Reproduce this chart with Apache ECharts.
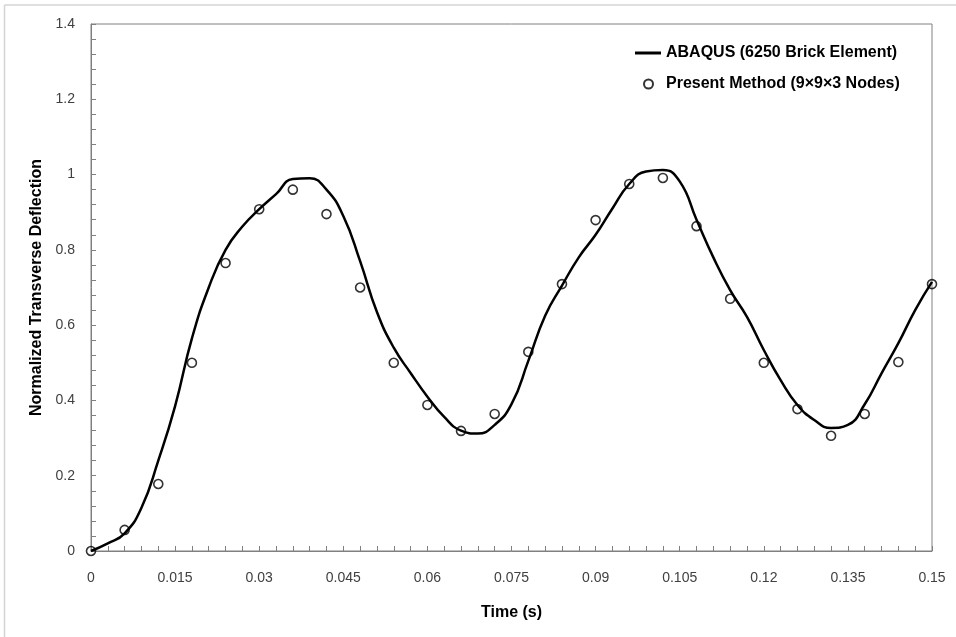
<!DOCTYPE html>
<html>
<head>
    <meta charset="UTF-8">
    <title>Normalized Transverse Deflection</title>
    <script src="https://cdn.jsdelivr.net/npm/echarts@6/dist/echarts.min.js"></script>
    <style>
        html, body { margin: 0; padding: 0; background: #fff; }
        #main { width: 956px; height: 637px; }
    </style>
</head>
<body>
    <div id="main"></div>
    <script type="text/javascript">
        // ABAQUS curve, every 0.003 s
        var abaqusT = [0, 0.003, 0.006, 0.009, 0.012, 0.015, 0.018, 0.021, 0.024, 0.027,
            0.030, 0.033, 0.036, 0.039, 0.042, 0.045, 0.048, 0.051, 0.054, 0.057,
            0.060, 0.063, 0.066, 0.069, 0.072, 0.075, 0.078, 0.081, 0.084, 0.087,
            0.090, 0.093, 0.096, 0.099, 0.102, 0.105, 0.108, 0.111, 0.114, 0.117,
            0.120, 0.123, 0.126, 0.129, 0.132, 0.135, 0.138, 0.141, 0.144, 0.147, 0.150];
        var abaqusV = [0, 0.02, 0.047, 0.115, 0.24, 0.385, 0.565, 0.70, 0.80, 0.862,
            0.908, 0.948, 0.988, 0.99, 0.96, 0.89, 0.77, 0.635, 0.54, 0.473,
            0.41, 0.356, 0.32, 0.312, 0.335, 0.39, 0.505, 0.625, 0.705, 0.78,
            0.84, 0.91, 0.975, 1.008, 1.012, 0.982, 0.88, 0.78, 0.693, 0.622,
            0.534, 0.454, 0.388, 0.348, 0.327, 0.335, 0.39, 0.472, 0.552, 0.64, 0.715];

        // present method points (every 0.006 s)
        var presentT = [0, 0.006, 0.012, 0.018, 0.024, 0.030, 0.036, 0.042, 0.048, 0.054, 0.060, 0.066, 0.072, 0.078, 0.084, 0.090, 0.096, 0.102, 0.108, 0.114, 0.120, 0.126, 0.132, 0.138, 0.144, 0.150];
        var presentV = [0, 0.056, 0.178, 0.50, 0.765, 0.908, 0.96, 0.895, 0.70, 0.50, 0.388, 0.319, 0.364, 0.529, 0.709, 0.879, 0.975, 0.991, 0.863, 0.67, 0.50, 0.377, 0.306, 0.364, 0.502, 0.709];

        var nameLine = 'ABAQUS (6250 Brick Element)';
        var namePts = 'Present Method (9\u00d79\u00d73 Nodes)';

        var lineData = [];
        for (var i = 0; i < abaqusT.length; i++) lineData.push([abaqusT[i], abaqusV[i]]);
        var ptsData = [];
        for (var j = 0; j < presentT.length; j++) ptsData.push([presentT[j], presentV[j]]);

        var labelFont = "'Liberation Sans', Arial, sans-serif";
        var boldFont = "'Liberation Sans', Arial, sans-serif";

        var myChart = echarts.init(document.getElementById('main'));

        var option = {
            animation: false,
            backgroundColor: '#fff',
            graphic: [
                { type: 'line', shape: { x1: 4.5, y1: 5, x2: 4.5, y2: 637 }, style: { stroke: '#d4d4d4', lineWidth: 1.5 } },
                { type: 'line', shape: { x1: 4.5, y1: 5, x2: 956, y2: 5 }, style: { stroke: '#d4d4d4', lineWidth: 1.5 } }
            ],
            grid: {
                left: 91, top: 24, right: 24, bottom: 86,
                show: true, borderColor: '#808080', borderWidth: 1
            },
            legend: [
                {
                    data: [{ name: nameLine, icon: 'rect' }],
                    left: 630, top: 40,
                    itemWidth: 26, itemHeight: 3,
                    textStyle: { fontFamily: boldFont, fontWeight: 'bold', fontSize: 16, color: '#000' }
                },
                {
                    data: [{ name: namePts, icon: 'circle' }],
                    left: 638, top: 71,
                    itemWidth: 9, itemHeight: 9,
                    textStyle: { fontFamily: boldFont, fontWeight: 'bold', fontSize: 16, color: '#000', padding: [0, 0, 0, 8] }
                }
            ],
            xAxis: {
                type: 'value', min: 0, max: 0.15, interval: 0.015,
                name: 'Time (s)', nameLocation: 'middle', nameGap: 54,
                nameTextStyle: { fontFamily: boldFont, fontWeight: 'bold', fontSize: 16, color: '#000' },
                axisLine: { lineStyle: { color: '#808080', width: 1 } },
                axisTick: { inside: true, length: 5, lineStyle: { color: '#808080' } },
                minorTick: { show: true, splitNumber: 5, length: 5, lineStyle: { color: '#808080' } },
                splitLine: { show: false },
                axisLabel: {
                    margin: 20, fontFamily: labelFont, fontSize: 14, color: '#404040',
                    formatter: function (v) { return String(+v.toFixed(3)); }
                }
            },
            yAxis: {
                type: 'value', min: 0, max: 1.4, interval: 0.2,
                name: 'Normalized Transverse Deflection', nameLocation: 'middle', nameGap: 46,
                nameTextStyle: { fontFamily: boldFont, fontWeight: 'bold', fontSize: 16, color: '#000' },
                axisLine: { show: true, lineStyle: { color: '#808080', width: 1 } },
                axisTick: { show: true, inside: true, length: 5, lineStyle: { color: '#808080' } },
                minorTick: { show: true, splitNumber: 5, length: 5, lineStyle: { color: '#808080' } },
                splitLine: { show: false },
                axisLabel: {
                    margin: 16, fontFamily: labelFont, fontSize: 14, color: '#404040',
                    formatter: function (v) { return String(+v.toFixed(1)); }
                }
            },
            series: [
                {
                    name: nameLine,
                    type: 'line',
                    data: lineData,
                    smooth: 0.5,
                    showSymbol: false,
                    symbol: 'none',
                    lineStyle: { color: '#000', width: 2.5 },
                    itemStyle: { color: '#000' },
                    z: 2
                },
                {
                    name: namePts,
                    type: 'scatter',
                    data: ptsData,
                    symbol: 'circle',
                    symbolSize: 9,
                    itemStyle: { color: 'rgba(0,0,0,0)', borderColor: '#000', borderWidth: 1.6 },
                    z: 3
                }
            ]
        };

        myChart.setOption(option);
    </script>
</body>
</html>
